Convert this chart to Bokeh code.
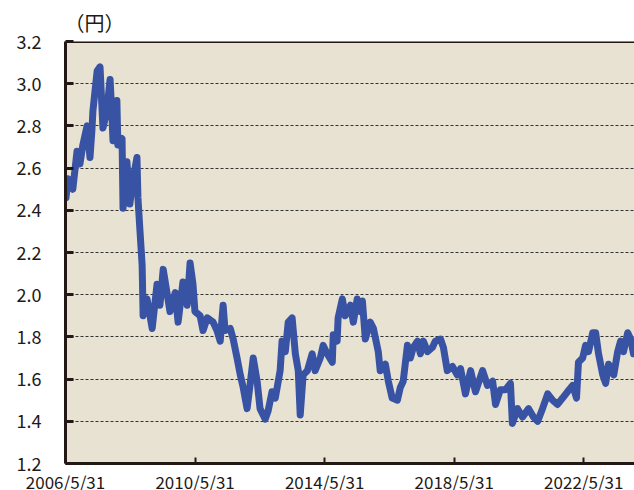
from bokeh.plotting import figure
from bokeh.models import Range1d, FixedTicker, Span
from bokeh.embed import file_html
from bokeh.resources import INLINE

# decimal year of each reading
years = [2006.43, 2006.49, 2006.55, 2006.64, 2006.77, 2006.86, 2006.95, 2007.08, 2007.17, 2007.23,
         2007.26, 2007.39, 2007.48, 2007.57, 2007.69, 2007.79, 2007.85, 2007.88, 2008.00, 2008.03,
         2008.16, 2008.19, 2008.31, 2008.40, 2008.50, 2008.62, 2008.65, 2008.71, 2008.78, 2008.81,
         2008.93, 2009.09, 2009.24, 2009.33, 2009.43, 2009.64, 2009.80, 2009.89, 2010.04, 2010.17,
         2010.26, 2010.35, 2010.41, 2010.57, 2010.66, 2010.79, 2010.97, 2011.09, 2011.19, 2011.28,
         2011.34, 2011.50, 2011.59, 2011.71, 2011.81, 2011.90, 2012.02, 2012.11, 2012.21, 2012.33,
         2012.42, 2012.58, 2012.67, 2012.79, 2012.89, 2013.04, 2013.10, 2013.20, 2013.29, 2013.41,
         2013.51, 2013.60, 2013.66, 2013.75, 2013.88, 2014.03, 2014.12, 2014.28, 2014.37, 2014.49,
         2014.65, 2014.68, 2014.80, 2014.83, 2014.96, 2015.05, 2015.21, 2015.30, 2015.42, 2015.51,
         2015.58, 2015.67, 2015.82, 2015.92, 2016.07, 2016.13, 2016.29, 2016.38, 2016.50, 2016.66,
         2016.75, 2016.84, 2016.97, 2017.06, 2017.15, 2017.28, 2017.37, 2017.46, 2017.59, 2017.74,
         2017.83, 2017.99, 2018.08, 2018.20, 2018.36, 2018.51, 2018.61, 2018.76, 2018.92, 2019.07,
         2019.29, 2019.44, 2019.60, 2019.69, 2019.84, 2020.00, 2020.15, 2020.21, 2020.37, 2020.52,
         2020.71, 2020.86, 2020.99, 2021.14, 2021.30, 2021.45, 2021.60, 2021.76, 2021.91, 2022.07,
         2022.19, 2022.25, 2022.38, 2022.47, 2022.56, 2022.69, 2022.78, 2022.87, 2023.00, 2023.09,
         2023.18, 2023.34, 2023.46, 2023.55, 2023.64, 2023.77, 2023.86, 2023.95]

# price in yen
prices = [2.46, 2.55, 2.52, 2.50, 2.68, 2.62, 2.71, 2.80, 2.65, 2.78,
          2.87, 3.06, 3.08, 2.79, 2.87, 3.02, 2.84, 2.73, 2.92, 2.71,
          2.74, 2.41, 2.63, 2.43, 2.55, 2.65, 2.46, 2.31, 2.14, 1.90,
          1.98, 1.84, 2.05, 1.95, 2.12, 1.92, 2.01, 1.87, 2.06, 1.95,
          2.15, 2.05, 1.92, 1.90, 1.83, 1.89, 1.87, 1.83, 1.78, 1.95,
          1.83, 1.84, 1.79, 1.70, 1.62, 1.56, 1.46, 1.57, 1.70, 1.59,
          1.46, 1.41, 1.45, 1.54, 1.51, 1.64, 1.78, 1.73, 1.87, 1.89,
          1.72, 1.64, 1.43, 1.62, 1.64, 1.72, 1.64, 1.70, 1.76, 1.72,
          1.68, 1.81, 1.78, 1.89, 1.98, 1.90, 1.95, 1.87, 1.98, 1.92,
          1.97, 1.79, 1.87, 1.84, 1.73, 1.64, 1.67, 1.59, 1.51, 1.50,
          1.56, 1.59, 1.76, 1.70, 1.75, 1.78, 1.72, 1.78, 1.73, 1.75,
          1.78, 1.79, 1.75, 1.64, 1.66, 1.62, 1.65, 1.53, 1.64, 1.54,
          1.64, 1.57, 1.59, 1.48, 1.55, 1.55, 1.58, 1.39, 1.46, 1.42,
          1.46, 1.42, 1.40, 1.46, 1.53, 1.50, 1.48, 1.51, 1.54, 1.57,
          1.51, 1.68, 1.70, 1.76, 1.73, 1.82, 1.82, 1.72, 1.62, 1.58,
          1.67, 1.62, 1.73, 1.78, 1.73, 1.82, 1.79, 1.72]

x_tick_pos = [2006.414, 2010.414, 2014.414, 2018.414, 2022.414]
x_tick_labels = ["2006/5/31", "2010/5/31", "2014/5/31", "2018/5/31", "2022/5/31"]
y_ticks = [1.2, 1.4, 1.6, 1.8, 2.0, 2.2, 2.4, 2.6, 2.8, 3.0, 3.2]

FONT = "Noto Sans CJK JP"

p = figure(frame_width=569, frame_height=422, output_backend="svg", toolbar_location=None,
           x_range=Range1d(2006.414, 2023.98), y_range=Range1d(1.2, 3.2),
           min_border_left=65, min_border_right=0, min_border_top=40, min_border_bottom=0,
           background_fill_color="#e8e2d2", border_fill_color="white")

p.title.text = "（円）"
p.title.text_font = FONT
p.title.text_font_size = "20px"
p.title.text_font_style = "normal"
p.title.text_color = "#231815"
p.title.align = "left"
p.title.offset = -1
p.title.standoff = 10

p.outline_line_color = None

p.line(years, prices, line_color="#3953a4", line_width=7, line_join="round", line_cap="round")

p.add_layout(Span(location=3.2, dimension="width", line_color="#231815", line_width=3))

xa = p.xaxis[0]
xa.ticker = FixedTicker(ticks=x_tick_pos)
xa.major_label_overrides = {t: l for t, l in zip(x_tick_pos, x_tick_labels)}
xa.axis_line_width = 3
xa.axis_line_color = "#231815"
xa.major_tick_in = 6
xa.major_tick_out = 0
xa.major_tick_line_width = 2
xa.major_tick_line_color = "#231815"
xa.minor_tick_line_color = None
xa.major_label_text_font = FONT
xa.major_label_text_font_size = "17px"
xa.major_label_text_color = "#231815"
xa.major_label_standoff = 5

ya = p.yaxis[0]
ya.ticker = FixedTicker(ticks=y_ticks)
ya.major_label_overrides = {t: f"{t:.1f}" for t in y_ticks}
ya.axis_line_width = 3
ya.axis_line_color = "#231815"
ya.major_tick_in = 8
ya.major_tick_out = 0
ya.major_tick_line_width = 3
ya.major_tick_line_color = "#231815"
ya.minor_tick_line_color = None
ya.major_label_text_font = FONT
ya.major_label_text_font_size = "18px"
ya.major_label_text_color = "#231815"
ya.major_label_standoff = 24

p.xgrid.grid_line_color = None
p.ygrid.ticker = FixedTicker(ticks=[1.4, 1.6, 1.8, 2.0, 2.2, 2.4, 2.6, 2.8, 3.0])
p.ygrid.grid_line_color = "#333333"
p.ygrid.grid_line_dash = "3 2"
p.ygrid.grid_line_width = 1

open("out.html", "w").write(file_html(p, INLINE))
